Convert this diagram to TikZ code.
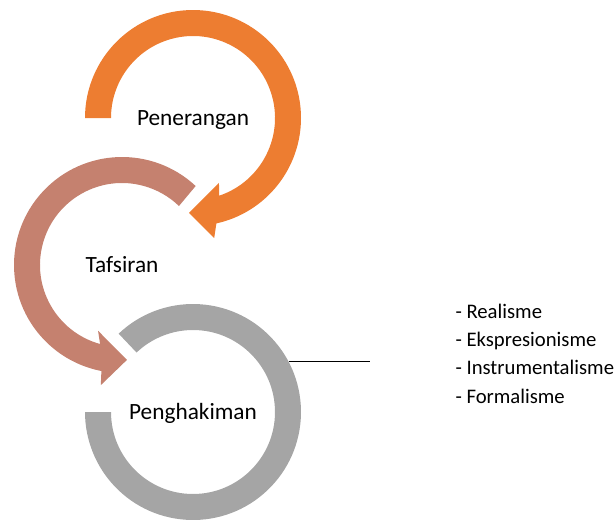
\documentclass[tikz,border=0pt]{standalone}
\usepackage{fontspec}
\setmainfont{Carlito}
\usetikzlibrary{calc}
\definecolor{orangeRing}{HTML}{ED7D31}
\definecolor{brownRing}{HTML}{C5816F}
\definecolor{grayRing}{HTML}{A5A5A5}

\begin{document}
\begin{tikzpicture}[x=1pt, y=1pt,
		ringtext/.style={font=\fontsize{23.3}{28}\selectfont, anchor=base},
		listitem/.style={font=\fontsize{20.7}{25}\selectfont, anchor=base west}]
	\useasboundingbox (0, 0) rectangle (614, -520);
	\coordinate (P) at (193, -118);
	\coordinate (T) at (122, -265);
	\coordinate (H) at (193, -412);
	\fill[orangeRing] ($(P)+(180:108)$) arc[start angle=180, end angle=-77.5, radius=108]
		-- ($(P)+(-80:122)$) -- ($(P)+(-92.4:95)$) -- ($(P)+(-68.2:70)$)
		-- ($(P)+(-71.5:82)$) arc[start angle=-71.5, end angle=180, radius=82] -- cycle;
	\fill[brownRing] ($(T)+(47:108)$) arc[start angle=47, end angle=259, radius=108]
		-- ($(T)+(-100:122)$) -- ($(T)+(-87:95)$) -- ($(T)+(-110:70)$)
		-- ($(T)+(254.5:82)$) arc[start angle=254.5, end angle=46, radius=82] -- cycle;
	\fill[grayRing] ($(H)+(133.5:108)$) arc[start angle=133.5, end angle=-180, radius=108]
		-- ($(H)+(180:82)$) arc[start angle=-180, end angle=133.5, radius=82] -- cycle;
	\node[ringtext] (penerangan) at ($(P)+(0, -7.5)$) {Penerangan};
	\node[ringtext] (tafsiran) at ($(T)+(0, -7.5)$) {Tafsiran};
	\node[ringtext] (penghakiman) at ($(H)+(0, -7.5)$) {Penghakiman};
	\coordinate (ringedge) at ($(H)+(27.6:108)$);
	\coordinate (leadend) at ($(ringedge)+(81.5, 0)$);
	\draw[line width=1pt] (ringedge) -- (leadend);
	\foreach \t [count=\i] in {Realisme, Ekspresionisme, Instrumentalisme, Formalisme}
		\node[listitem] (item\i) at (452, {-318.3-28.3*(\i-1)}) {- \t};
\end{tikzpicture}
\end{document}
